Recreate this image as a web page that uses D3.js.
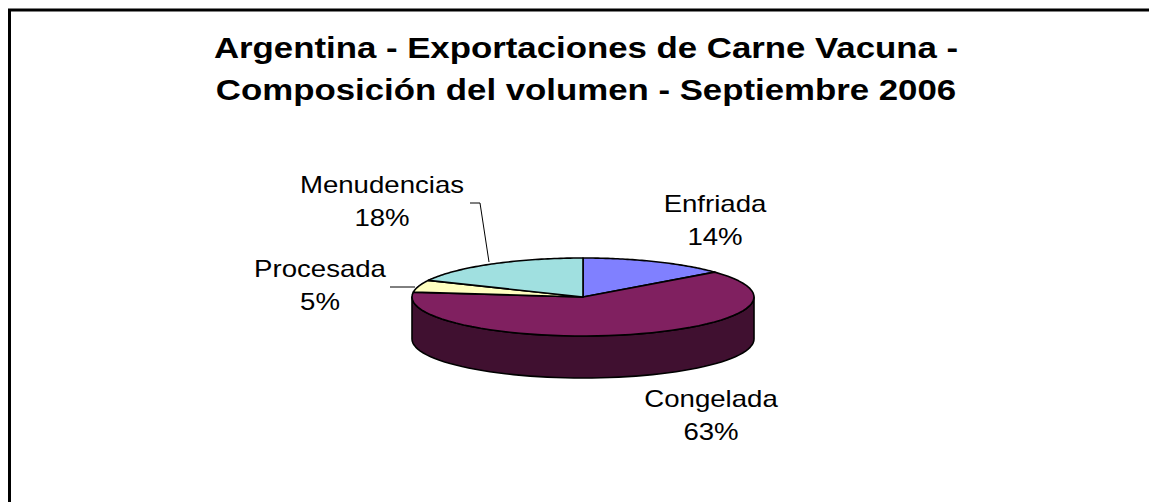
<!DOCTYPE html>
<html>
<head>
<meta charset="utf-8">
<script src="https://cdn.jsdelivr.net/npm/d3@7"></script>
<style>
  body { margin: 0; background: #fff; }
  svg { display: block; font-family: Arial, "Liberation Sans", sans-serif; }
</style>
</head>
<body>
<div class="pie-chart"></div>
<script>
'use strict'

// Data.
const titleLines = ['Argentina - Exportaciones de Carne Vacuna -', 'Composición del volumen - Septiembre 2006'];
const categories = ['Enfriada', 'Congelada', 'Procesada', 'Menudencias'];
const shares = [14, 63, 5, 18];
const colours = ['#8080ff', '#802060', '#ffffc0', '#a0e0e0'];

// Dimensions and Constants
let width = 1149,
    height = 502,
    cx = 583, cy = 297,   // centre of top ellipse
    rx = 171, ry = 39,    // ellipse radii
    depth = 42,           // height of the pie wall
    stretch = 1.2;        // horizontal text stretch of the original picture

// Label placement (centre x, first baseline y) and optional leader lines.
let labelLayout = {
    Enfriada:    {x: 715, y: 212},
    Congelada:   {x: 711, y: 407},
    Procesada:   {x: 320, y: 277, leader: [[390, 287], [415, 287]]},
    Menudencias: {x: 382, y: 193, leader: [[470, 203], [480, 203], [489, 262]]}
};

let svg = d3.select('.pie-chart')
    .append('svg')
    .attr('width', width)
    .attr('height', height);

// Chart frame (runs off the right and bottom edges).
svg.append('rect')
    .attr('x', 9.5).attr('y', 10)
    .attr('width', width + 20).attr('height', height + 20)
    .attr('fill', 'none')
    .attr('stroke', '#000')
    .attr('stroke-width', 3);

// Title.
svg.append('g')
    .attr('class', 'title')
    .selectAll('text')
    .data(titleLines)
    .join('text')
    .attr('transform', (d, i) => `translate(586, ${57.5 + i * 42.5}) scale(${stretch},1)`)
    .attr('text-anchor', 'middle')
    .style('font-size', '29px')
    .style('font-weight', 'bold')
    .text(d => d);

// Pie layout: clockwise from 12 o'clock.
let pie = d3.pie().sort(null).value(d => d.share);
let slices = pie(categories.map((c, i) => ({name: c, share: shares[i], colour: colours[i]})));

// Angle -> ellipse point.
let px = d3.scaleLinear().domain([-1, 1]).range([cx - rx, cx + rx]);
let py = d3.scaleLinear().domain([-1, 1]).range([cy + ry, cy - ry]);
let pt = (a, dy = 0) => [px(Math.sin(a)), py(Math.cos(a)) + dy];
let arcPts = (a0, a1, dy = 0) => d3.range(0, 61).map(k => pt(a0 + (a1 - a0) * k / 60, dy));
let line = d3.line();

// Walls: only the front half (angles pi/2 .. 3pi/2) is visible.
let walls = slices.map(s => {
    let a0 = Math.max(s.startAngle, Math.PI / 2),
        a1 = Math.min(s.endAngle, 3 * Math.PI / 2);
    return a1 > a0 ? {s, a0, a1} : null;
}).filter(d => d);

svg.append('g')
    .attr('class', 'walls')
    .selectAll('path')
    .data(walls)
    .join('path')
    .attr('d', d => line(arcPts(d.a0, d.a1).concat(arcPts(d.a1, d.a0, depth))) + 'Z')
    .attr('fill', d => d3.color(d.s.data.colour).darker(1.95))
    .attr('stroke', '#000')
    .attr('stroke-width', 1.6)
    .attr('stroke-linejoin', 'round');

// Top faces.
svg.append('g')
    .attr('class', 'tops')
    .selectAll('path')
    .data(slices)
    .join('path')
    .attr('d', d => line([[cx, cy]].concat(arcPts(d.startAngle, d.endAngle))) + 'Z')
    .attr('fill', d => d.data.colour)
    .attr('stroke', '#000')
    .attr('stroke-width', 1.6)
    .attr('stroke-linejoin', 'round');

// Leader lines.
svg.append('g')
    .attr('class', 'leaders')
    .selectAll('path')
    .data(slices.filter(d => labelLayout[d.data.name].leader))
    .join('path')
    .attr('d', d => line(labelLayout[d.data.name].leader))
    .attr('fill', 'none')
    .attr('stroke', '#000')
    .attr('stroke-width', 1);

// Labels: name + percentage.
let labels = svg.append('g')
    .attr('class', 'labels')
    .selectAll('g')
    .data(slices)
    .join('g')
    .attr('transform', d => `translate(${labelLayout[d.data.name].x}, ${labelLayout[d.data.name].y}) scale(${stretch},1)`)
    .style('font-size', '23px')
    .attr('text-anchor', 'middle');

labels.append('text').text(d => d.data.name);
labels.append('text').attr('y', 33.5).text(d => d3.format('.0%')(d.data.share / 100));
</script>
</body>
</html>
